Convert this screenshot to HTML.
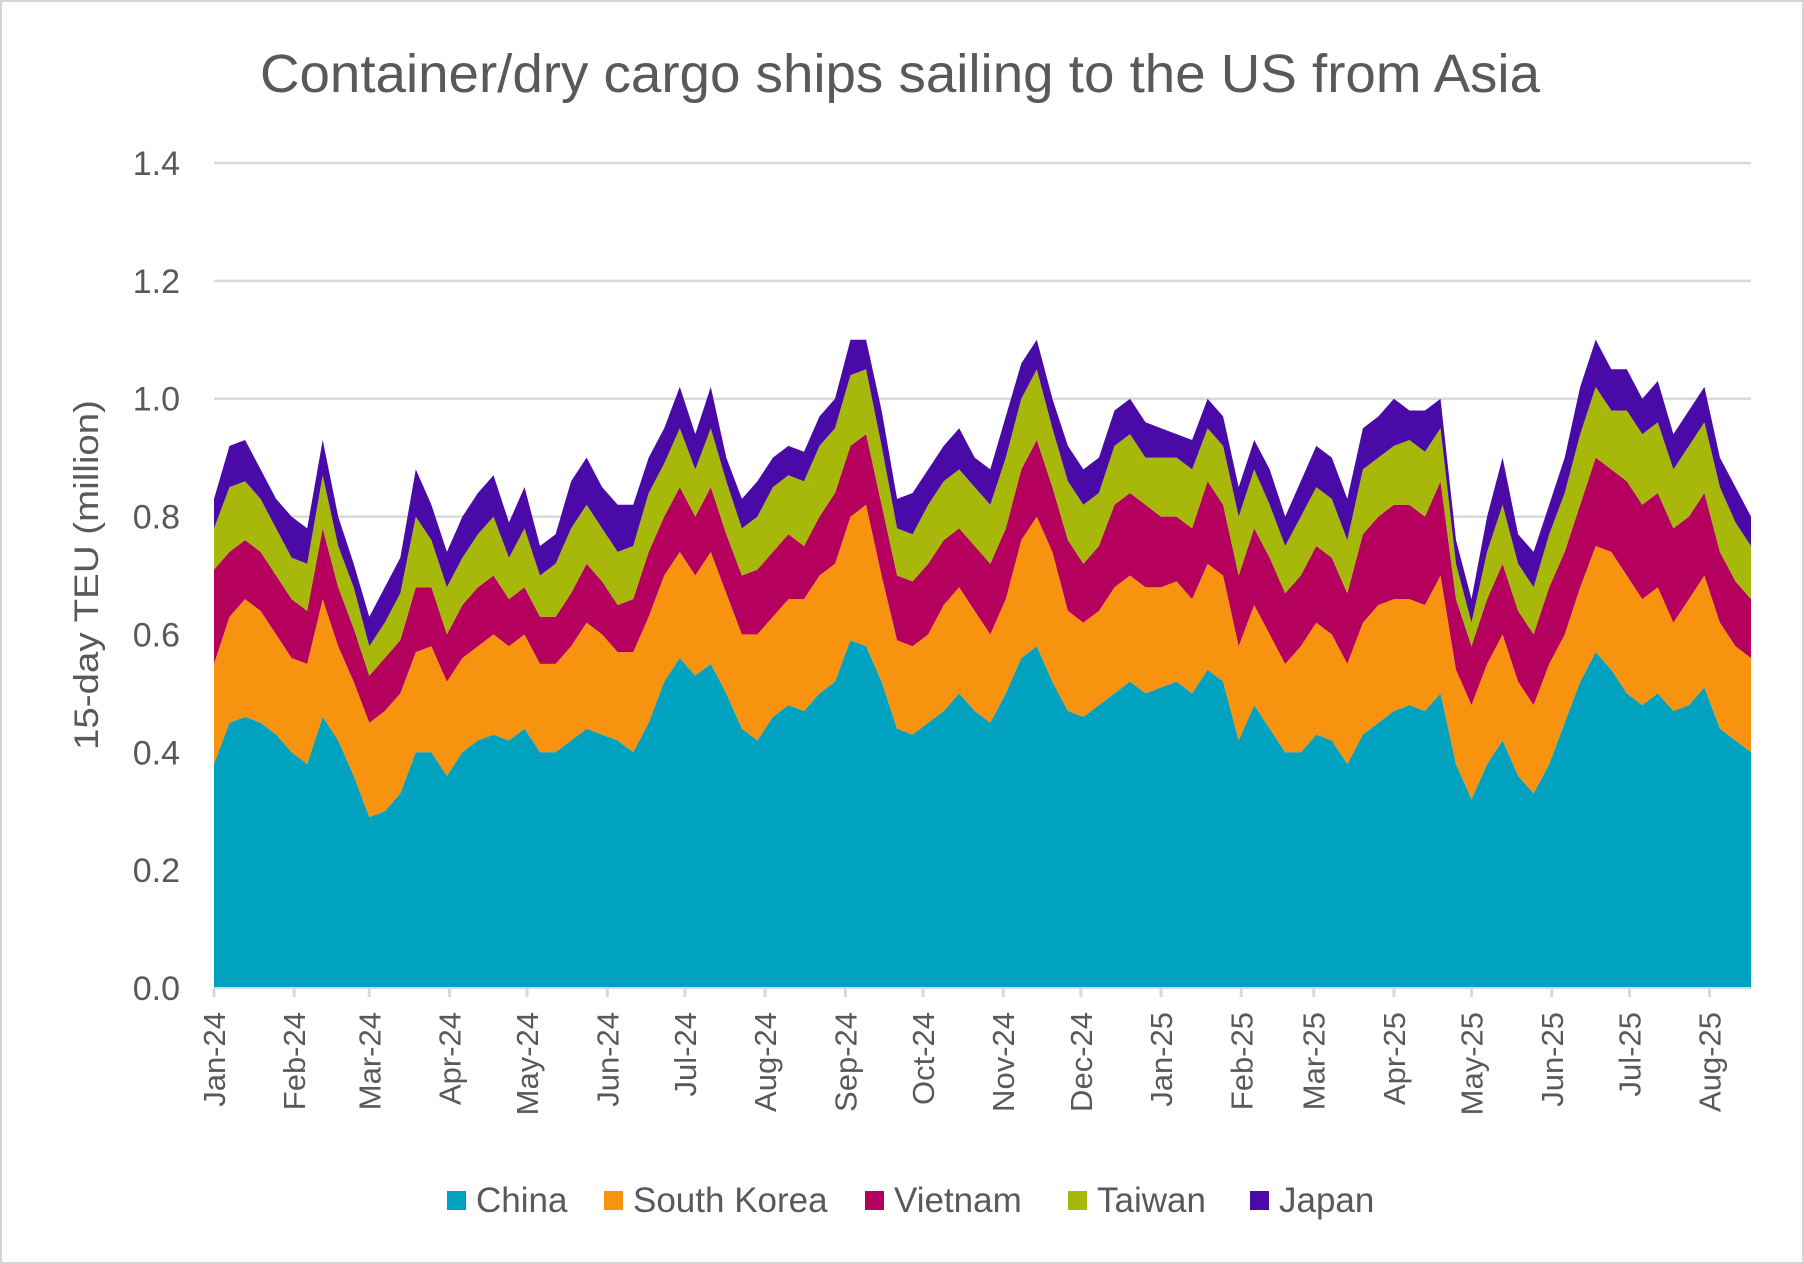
<!DOCTYPE html>
<html><head><meta charset="utf-8"><style>
html,body{margin:0;padding:0;background:#fff;}
svg{display:block;font-family:"Liberation Sans",sans-serif;}
</style></head><body>
<svg id="chart" width="1804" height="1264" viewBox="0 0 1804 1264">
<rect x="1" y="1" width="1802" height="1262" fill="#fff" stroke="#d4d4d4" stroke-width="2"/>
<text x="900" y="92" text-anchor="middle" font-size="54" fill="#595959" textLength="1280" lengthAdjust="spacingAndGlyphs">Container/dry cargo ships sailing to the US from Asia</text>
<text transform="translate(98,575) rotate(-90)" text-anchor="middle" font-size="34" fill="#595959" textLength="350" lengthAdjust="spacingAndGlyphs">15-day TEU (million)</text>
<g id="grid"></g>
<g id="areas"></g>
<g id="xaxis"></g>
<g id="legend"></g>
</svg>
<script>
const yTicks=[0,0.2,0.4,0.6,0.8,1.0,1.2,1.4];
const monthLabels=["Jan-24","Feb-24","Mar-24","Apr-24","May-24","Jun-24","Jul-24","Aug-24","Sep-24","Oct-24","Nov-24","Dec-24","Jan-25","Feb-25","Mar-25","Apr-25","May-25","Jun-25","Jul-25","Aug-25"];
const monthDays=[0,31,60,91,121,152,182,213,244,274,305,335,366,397,425,456,486,517,547,578];
const seriesNames=["China","South Korea","Vietnam","Taiwan","Japan"];
const china=[.38,.45,.46,.45,.43,.40,.38,.46,.42,.36,.29,.30,.33,.40,.40,.36,.40,.42,.43,.42,.44,.40,.40,.42,.44,.43,.42,.40,.45,.52,.56,.53,.55,.50,.44,.42,.46,.48,.47,.50,.52,.59,.58,.52,.44,.43,.45,.47,.50,.47,.45,.50,.56,.58,.52,.47,.46,.48,.50,.52,.50,.51,.52,.50,.54,.52,.42,.48,.44,.40,.40,.43,.42,.38,.43,.45,.47,.48,.47,.50,.38,.32,.38,.42,.36,.33,.38,.45,.52,.57,.54,.50,.48,.50,.47,.48,.51,.44,.42,.40];
const korea=[.17,.18,.20,.19,.17,.16,.17,.20,.16,.16,.16,.17,.17,.17,.18,.16,.16,.16,.17,.16,.16,.15,.15,.16,.18,.17,.15,.17,.18,.18,.18,.17,.19,.17,.16,.18,.17,.18,.19,.20,.20,.21,.24,.18,.15,.15,.15,.18,.18,.17,.15,.16,.20,.22,.22,.17,.16,.16,.18,.18,.18,.17,.17,.16,.18,.18,.16,.17,.16,.15,.18,.19,.18,.17,.19,.20,.19,.18,.18,.20,.16,.16,.17,.18,.16,.15,.17,.15,.16,.18,.20,.20,.18,.18,.15,.18,.19,.18,.16,.16];
const vietnam=[.16,.11,.10,.10,.10,.10,.09,.12,.10,.09,.08,.09,.09,.11,.10,.08,.09,.10,.10,.08,.08,.08,.08,.09,.10,.09,.08,.09,.11,.10,.11,.10,.11,.10,.10,.11,.11,.11,.09,.10,.12,.12,.12,.12,.11,.11,.12,.11,.10,.11,.12,.12,.12,.13,.11,.12,.10,.11,.14,.14,.14,.12,.11,.12,.14,.12,.12,.13,.13,.12,.12,.13,.13,.12,.15,.15,.16,.16,.15,.16,.12,.10,.11,.12,.12,.12,.13,.14,.14,.15,.14,.16,.16,.16,.16,.14,.14,.12,.11,.10];
const taiwan=[.07,.11,.10,.09,.08,.07,.08,.09,.07,.07,.05,.06,.08,.12,.08,.08,.08,.09,.10,.07,.10,.07,.09,.11,.10,.09,.09,.09,.10,.09,.10,.08,.10,.09,.08,.09,.11,.10,.11,.12,.11,.12,.11,.10,.08,.08,.10,.10,.10,.10,.10,.12,.12,.12,.10,.10,.10,.09,.10,.10,.08,.10,.10,.10,.09,.10,.10,.10,.09,.08,.10,.10,.10,.09,.11,.10,.10,.11,.11,.09,.06,.04,.08,.10,.08,.08,.09,.10,.12,.12,.10,.12,.12,.12,.10,.12,.12,.11,.10,.09];
const japan=[.05,.07,.07,.05,.05,.07,.06,.06,.05,.04,.05,.06,.06,.08,.06,.06,.07,.07,.07,.06,.07,.05,.05,.08,.08,.07,.08,.07,.06,.06,.07,.06,.07,.04,.05,.06,.05,.05,.05,.05,.05,.06,.05,.06,.05,.07,.06,.06,.07,.05,.06,.07,.06,.05,.05,.06,.06,.06,.06,.06,.06,.05,.04,.05,.05,.05,.05,.05,.06,.05,.06,.07,.07,.07,.07,.07,.08,.05,.07,.05,.04,.04,.06,.08,.05,.06,.05,.06,.08,.08,.07,.07,.06,.07,.06,.06,.06,.05,.06,.05];
const dayStep=6;
const colors=["#00a2bf","#f7930e","#b5005e","#a8b80a","#4a0aa8"];
const NS="http://www.w3.org/2000/svg";
const X0=214,X1=1751,Y0=988,Y1=163,DMAX=594,VMAX=1.4;
const xs=d=>X0+(d/DMAX)*(X1-X0);
const ys=v=>Y0-(v/VMAX)*(Y0-Y1);
function mk(tag,attrs,parent){const e=document.createElementNS(NS,tag);for(const k in attrs)e.setAttribute(k,attrs[k]);parent.appendChild(e);return e;}
const grid=document.getElementById('grid');
yTicks.forEach(t=>{
  if(t>0){const l=mk('line',{x1:X0,x2:X1,y1:ys(t),y2:ys(t),stroke:'#d9d9d9','stroke-width':2.5},grid);
  
  }
  const tx=mk('text',{x:180,y:ys(t)+12,'text-anchor':'end','font-size':34,fill:'#595959'},grid);
  tx.textContent=t.toFixed(1);
  
  
});
const series=[china,korea,vietnam,taiwan,japan];
const areas=document.getElementById('areas');
let base=china.map(()=>0);
series.forEach((s,si)=>{
  const top=s.map((v,i)=>base[i]+v);
  let d='M'+xs(0)+','+ys(top[0]);
  top.forEach((v,i)=>{d+=' L'+xs(Math.min(i*dayStep,DMAX)).toFixed(1)+','+ys(v).toFixed(1);});
  for(let i=base.length-1;i>=0;i--)d+=' L'+xs(Math.min(i*dayStep,DMAX)).toFixed(1)+','+ys(base[i]).toFixed(1);
  d+=' Z';
  const p=mk('path',{d:d,fill:colors[si]},areas);
  
  
  base=top;
});
const xa=document.getElementById('xaxis');
const ax=mk('line',{x1:X0,x2:X1,y1:Y0,y2:Y0,stroke:'#d9d9d9','stroke-width':2},xa);


monthDays.forEach((md,i)=>{
  const x=xs(md);
  const tk=mk('line',{x1:x,x2:x,y1:Y0,y2:Y0+9,stroke:'#d9d9d9','stroke-width':3},xa);
  
  
  const t=mk('text',{transform:'translate('+(x+11)+',1012) rotate(-90)','text-anchor':'end','font-size':31,fill:'#595959'},xa);
  t.textContent=monthLabels[i];
  
  
});
const lg=document.getElementById('legend');
const lx=[447,604,865,1068,1250];
seriesNames.forEach((n,i)=>{
  const r=mk('rect',{x:lx[i],y:1191,width:19,height:19,fill:colors[i]},lg);
  
  
  const t=mk('text',{x:lx[i]+29,y:1212,'font-size':35,fill:'#595959'},lg);
  t.textContent=n;
  
  
});
</script>
</body></html>
